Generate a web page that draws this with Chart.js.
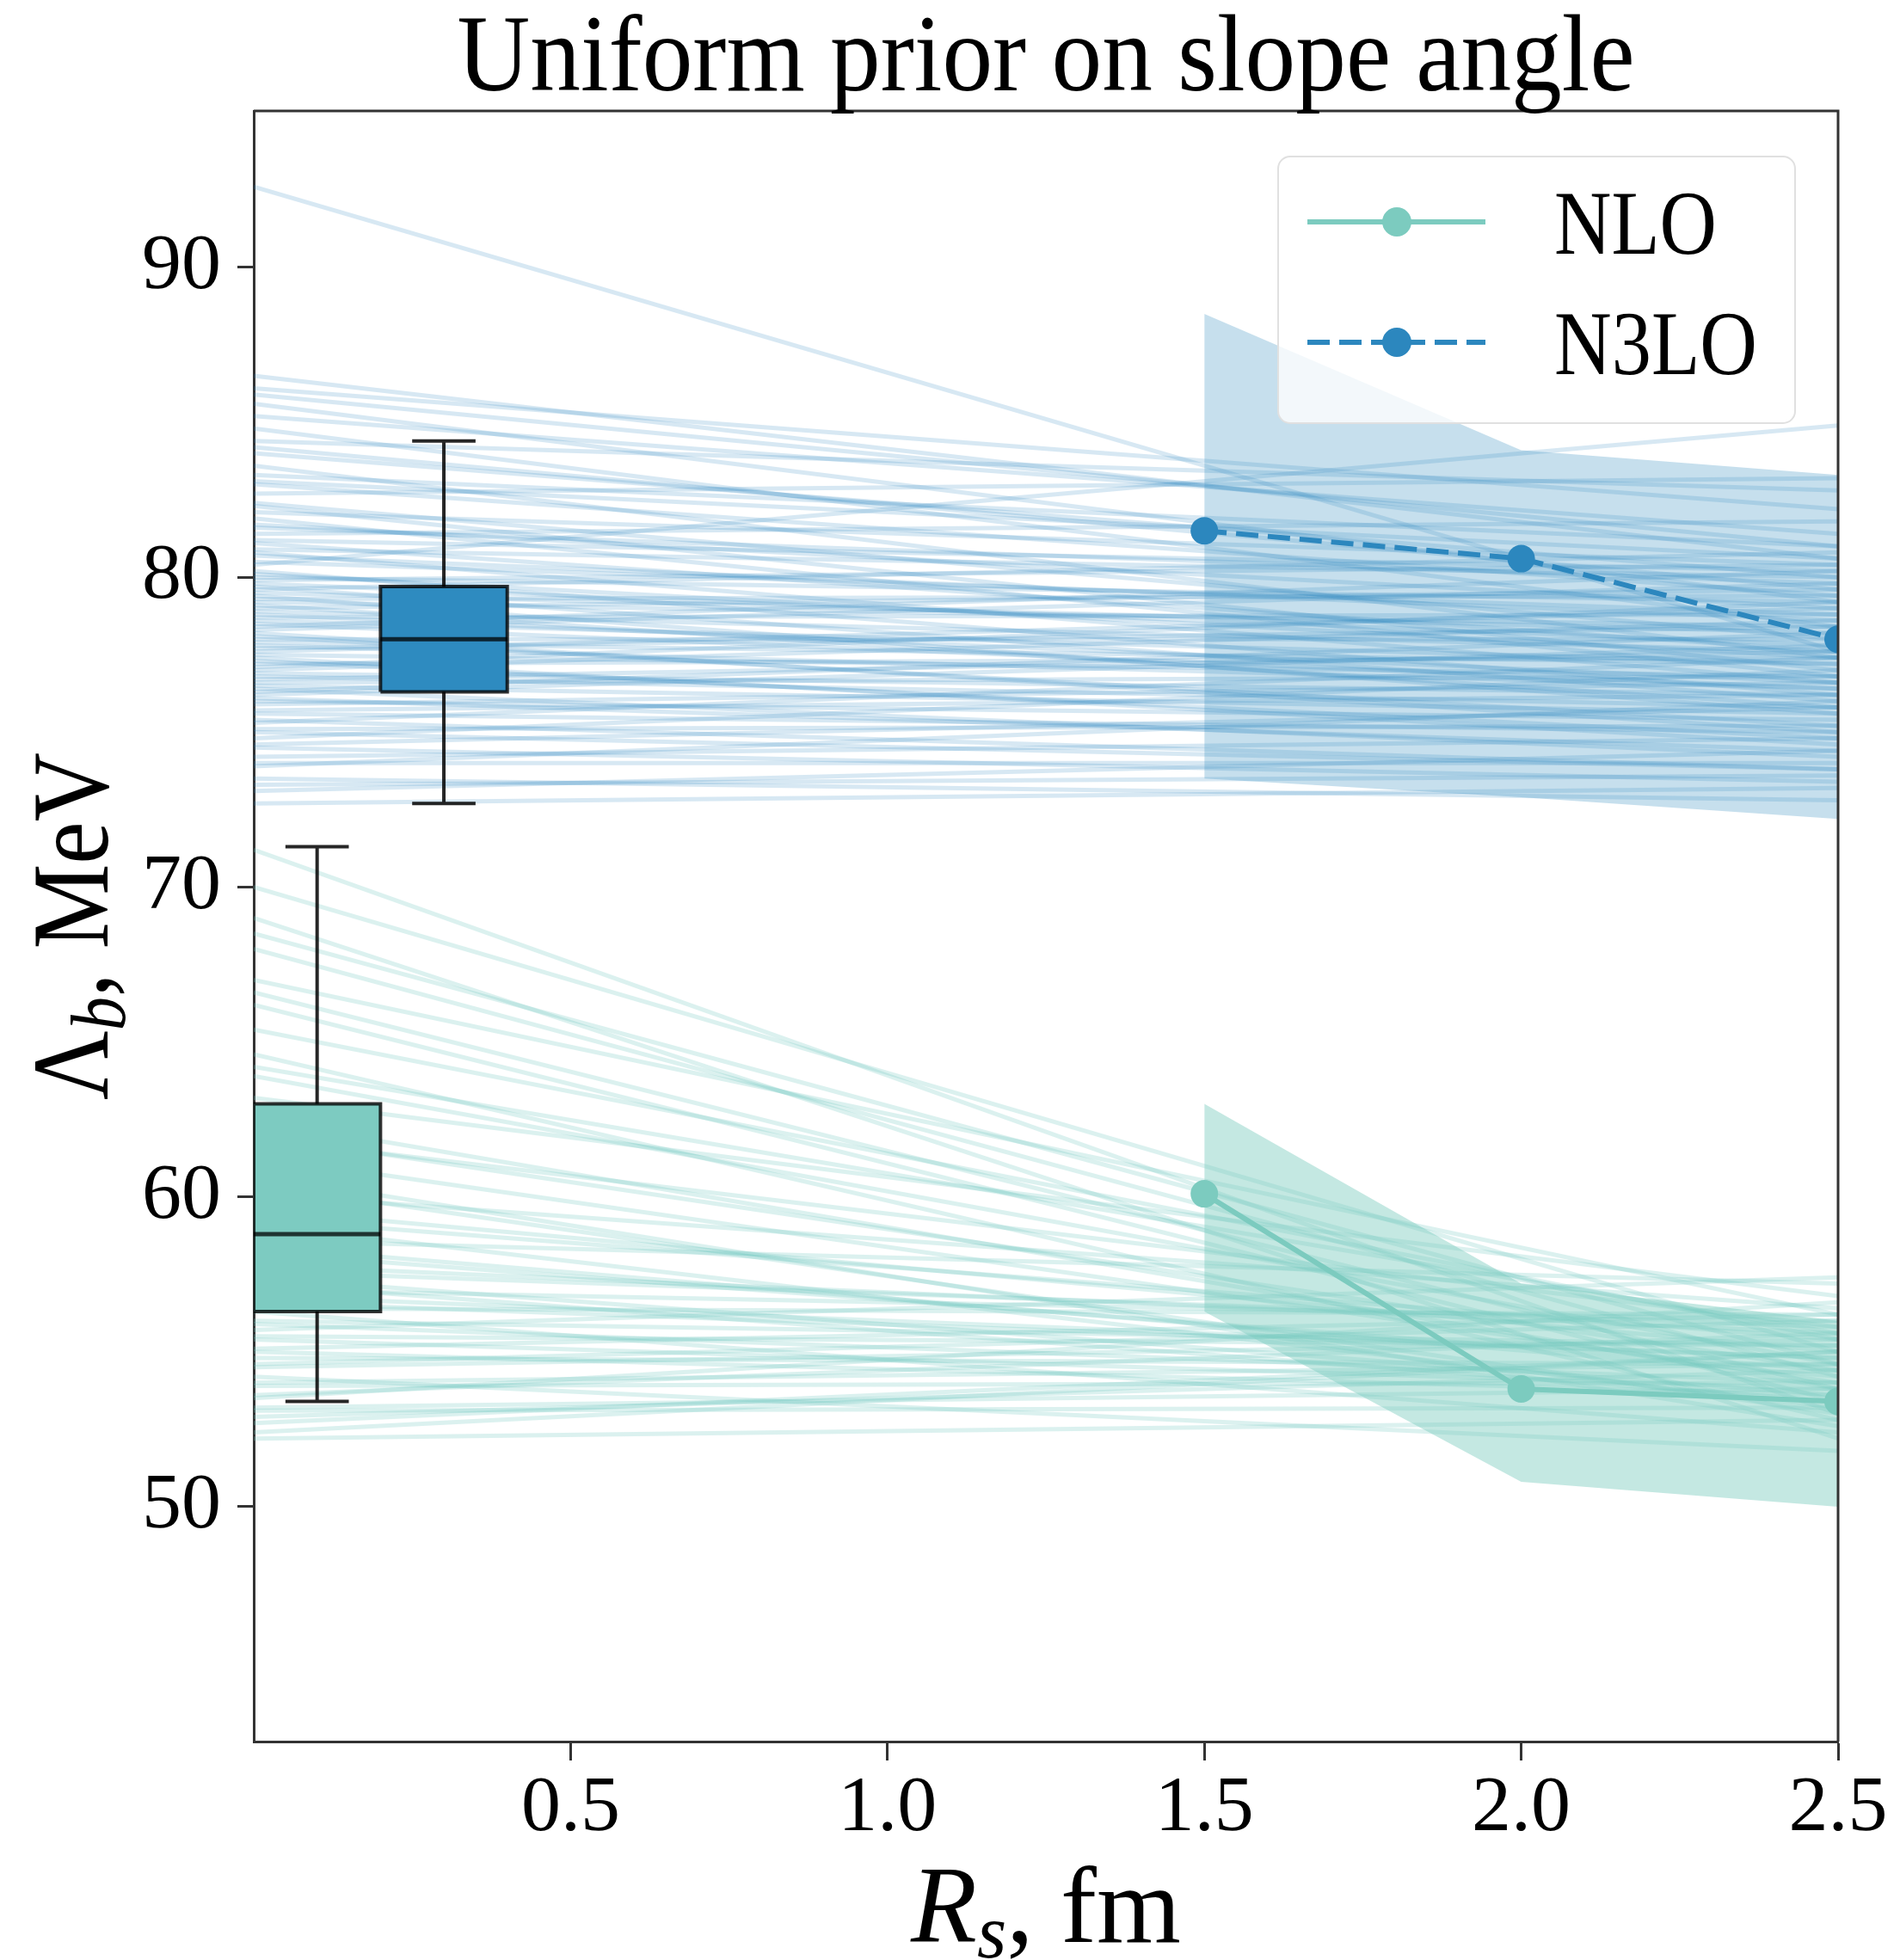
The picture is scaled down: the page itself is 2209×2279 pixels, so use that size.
<!DOCTYPE html>
<html>
<head>
<meta charset="utf-8">
<script src="https://cdn.jsdelivr.net/npm/chart.js@4.4.1/dist/chart.umd.min.js"></script>
<style>
  html, body { margin: 0; padding: 0; background: #fff; }
  #wrap { width: 2209px; height: 2279px; position: relative; }
</style>
</head>
<body>
<div id="wrap"><canvas id="chart"></canvas></div>
<script>
// cutoff radii where the fits were done
const cutoffs = [1.5, 2.0, 2.5];

// NLO mean and band
const nloMean = [60.1, 53.8, 53.4];
const nloUpper = [63.0, 57.2, 56.0];
const nloLower = [56.3, 50.8, 50.0];

// N3LO mean and band
const n3loMean = [81.5, 80.6, 78.0];
const n3loUpper = [88.5, 84.1, 83.3];
const n3loLower = [73.5, 72.9, 72.2];

// box plots: [low whisker, q1, median, q3, high whisker]
const nloBox = [53.4, 56.3, 58.8, 63.0, 71.3];
const n3loBox = [72.7, 76.3, 78.0, 79.7, 84.4];
const boxCenters = [0.1, 0.3];

// sampled straight lines, value at R_s = 0 and at R_s = 2.5
const sampleX = [0, 2.5];
const blueStart = [92.6, 86.5, 86.1, 85.6, 85.2, 84.8, 84.4, 84.0, 83.6, 83.3, 83.0, 82.7, 82.4, 82.1, 81.9, 81.6, 81.4, 81.1, 80.9, 80.7, 80.4, 80.2, 80.0, 79.8, 79.6, 79.4, 79.2, 79.0, 78.8, 78.6, 78.4, 78.2, 78.0, 77.8, 77.6, 77.4, 77.2, 77.0, 76.8, 76.6, 76.4, 76.2, 76.0, 75.7, 75.4, 75.1, 74.8, 74.5, 74.2, 73.9, 73.5, 73.1, 72.7,
  85.9, 84.2, 83.1, 82.3, 81.7, 81.2, 80.8, 80.5, 80.1, 79.9, 79.7, 79.5, 79.3, 79.1, 78.9, 78.7, 78.5, 78.3, 78.1, 77.9, 77.7, 77.5, 77.3, 77.1, 76.9, 76.7, 76.5, 76.3, 76.1, 75.9, 75.6, 75.3, 75.0, 74.6, 74.0, 73.3];
const blueEnd = [77.6, 80.6, 82.2, 79.2, 81.4, 78.4, 82.8, 80.0, 77.4, 81.0, 79.4, 83.2, 78.0, 80.4, 76.8, 79.8, 81.8, 77.6, 80.0, 78.6, 84.9, 76.2, 79.2, 77.8, 80.8, 75.6, 78.4, 79.6, 76.6, 77.2, 80.2, 75.0, 78.0, 76.4, 79.0, 74.6, 77.4, 78.6, 75.8, 76.8, 74.2, 77.8, 75.4, 76.2, 73.8, 75.2, 77.0, 73.4, 74.8, 76.0, 72.8, 74.4, 73.2,
  81.0, 79.6, 80.6, 77.0, 79.0, 80.2, 76.6, 78.8, 77.4, 80.4, 76.0, 78.2, 79.4, 75.8, 77.6, 78.8, 76.4, 79.8, 75.2, 77.2, 78.4, 76.8, 74.8, 79.2, 76.2, 77.6, 75.6, 78.2, 74.4, 76.6, 75.0, 77.4, 73.8, 75.8, 74.0, 73.6];
const tealStart = [71.2, 70.0, 69.0, 68.0, 67.0, 66.2, 65.4, 64.6, 63.9, 63.2, 62.5, 61.9, 61.3, 60.7, 60.1, 59.6, 59.1, 58.6, 58.2, 57.8, 57.4, 57.0, 56.6, 56.3, 56.0, 55.7, 55.4, 55.1, 54.8, 54.5, 54.2, 53.9, 53.5, 53.1, 52.7, 52.2,
  68.5, 66.6, 64.2, 62.0, 60.4, 59.3, 58.4, 57.6, 57.2, 56.8, 56.4, 55.9, 55.5, 55.0, 54.6, 54.0, 53.6, 53.2, 52.9, 52.4];
const tealEnd = [53.0, 55.0, 52.2, 54.2, 56.2, 53.4, 55.4, 52.8, 54.6, 56.8, 53.8, 55.8, 54.0, 52.6, 56.4, 55.0, 53.2, 57.2, 54.4, 55.6, 53.6, 56.0, 54.8, 52.4, 55.2, 57.4, 53.8, 56.2, 54.6, 55.4, 51.8, 54.0, 56.6, 53.2, 55.0, 52.8,
  54.6, 53.8, 55.6, 54.4, 53.0, 55.4, 54.2, 55.8, 53.4, 54.8, 56.2, 54.0, 55.2, 53.6, 56.0, 54.6, 55.6, 53.8, 54.4, 55.0];

// ticks
const xTicks = [0.5, 1.0, 1.5, 2.0, 2.5];
const yTicks = [50, 60, 70, 80, 90];

const TEAL = '#7ccbbf';
const BLUE = '#2c87be';
const SERIF = '"Liberation Serif", "DejaVu Serif", serif';
const boxWidth = 0.2;
const capWidth = 0.1;

const datasets = [];

function pts(xs, ys) {
  return xs.map((x, i) => ({ x: x, y: ys[i] }));
}

// faint sample lines (bottom layer)
blueStart.forEach((s, i) => {
  datasets.push({
    data: pts(sampleX, [s, blueEnd[i]]),
    borderColor: 'rgba(44,135,190,0.19)', borderWidth: 5, pointRadius: 0, fill: false, order: 10
  });
});
tealStart.forEach((s, i) => {
  datasets.push({
    data: pts(sampleX, [s, tealEnd[i]]),
    borderColor: 'rgba(110,198,190,0.25)', borderWidth: 5, pointRadius: 0, fill: false, order: 10
  });
});

// credible bands
function addBand(upper, lower, color) {
  const idx = datasets.length;
  datasets.push({
    data: pts(cutoffs, upper), borderColor: 'rgba(0,0,0,0)', borderWidth: 1, pointRadius: 0, fill: false, order: 6
  });
  datasets.push({
    data: pts(cutoffs, lower), borderColor: 'rgba(0,0,0,0)', borderWidth: 1, pointRadius: 0,
    fill: { target: idx }, backgroundColor: color, order: 6
  });
}
addBand(n3loUpper, n3loLower, 'rgba(44,135,190,0.27)');
addBand(nloUpper, nloLower, 'rgba(124,203,191,0.45)');

// mean curves
datasets.push({
  data: pts(cutoffs, nloMean), borderColor: TEAL, borderWidth: 6, pointRadius: 16,
  pointBackgroundColor: TEAL, pointBorderWidth: 0, fill: false, order: 3
});
datasets.push({
  data: pts(cutoffs, n3loMean), borderColor: BLUE, borderWidth: 6, borderDash: [26, 11], pointRadius: 16,
  pointBackgroundColor: BLUE, pointBorderWidth: 0, fill: false, order: 3
});

// box plots
function addBox(stats, c, color) {
  const [lo, q1, med, q3, hi] = stats;
  const l = c - boxWidth / 2, r = c + boxWidth / 2;
  const idx = datasets.length;
  datasets.push({
    data: [{ x: l, y: q3 }, { x: r, y: q3 }], borderColor: 'rgba(0,0,0,0)', borderWidth: 1, pointRadius: 0, fill: false, order: 2
  });
  datasets.push({
    data: [{ x: l, y: q1 }, { x: r, y: q1 }], borderColor: 'rgba(0,0,0,0)', borderWidth: 1, pointRadius: 0,
    fill: { target: idx }, backgroundColor: color, order: 2
  });
  datasets.push({
    data: [{ x: l, y: q1 }, { x: r, y: q1 }, { x: r, y: q3 }, { x: l, y: q3 }, { x: l, y: q1 }],
    borderColor: 'rgba(0,0,0,0.8)', borderWidth: 4, pointRadius: 0, fill: false, order: 1
  });
  datasets.push({
    data: [{ x: l, y: med }, { x: r, y: med }],
    borderColor: 'rgba(0,0,0,0.75)', borderWidth: 5, pointRadius: 0, fill: false, order: 1
  });
  datasets.push({
    data: [
      { x: c, y: q3 }, { x: c, y: hi }, { x: c, y: null },
      { x: c - capWidth / 2, y: hi }, { x: c + capWidth / 2, y: hi }, { x: c, y: null },
      { x: c, y: q1 }, { x: c, y: lo }, { x: c, y: null },
      { x: c - capWidth / 2, y: lo }, { x: c + capWidth / 2, y: lo }
    ],
    borderColor: 'rgba(0,0,0,0.85)', borderWidth: 4, pointRadius: 0, fill: false, spanGaps: false, order: 1
  });
}
addBox(nloBox, boxCenters[0], '#7dcbc1');
addBox(n3loBox, boxCenters[1], '#2e8bc0');

// draw text pieces squeezed to a target width
function drawPieces(ctx, pieces, x, y, width, align) {
  let total = 0;
  pieces.forEach(p => { ctx.font = p.font; p.w = ctx.measureText(p.text).width; total += p.w; });
  const sx = width / total;
  ctx.save();
  ctx.translate(x, y);
  ctx.scale(sx, 1);
  ctx.textBaseline = 'alphabetic';
  ctx.textAlign = 'left';
  ctx.fillStyle = '#000';
  let cx = align === 'center' ? -total / 2 : 0;
  pieces.forEach(p => { ctx.font = p.font; ctx.fillText(p.text, cx, p.dy || 0); cx += p.w; });
  ctx.restore();
}

const decorPlugin = {
  id: 'decor',
  afterDraw(chart) {
    const ctx = chart.ctx;
    const a = chart.chartArea;
    const midX = (a.left + a.right) / 2;
    const midY = (a.top + a.bottom) / 2;

    // top and right spines
    ctx.save();
    ctx.strokeStyle = '#333';
    ctx.lineWidth = 3;
    ctx.beginPath();
    ctx.moveTo(a.left, a.top);
    ctx.lineTo(a.right, a.top);
    ctx.lineTo(a.right, a.bottom);
    ctx.stroke();
    ctx.restore();

    // title
    drawPieces(ctx, [{ text: 'Uniform prior on slope angle', font: '128px ' + SERIF }], midX, a.top - 24, 1369, 'center');

    // x axis title
    drawPieces(ctx, [
      { text: 'R', font: 'italic 126px ' + SERIF },
      { text: 's', font: 'italic 88px ' + SERIF, dy: 18 },
      { text: ', fm', font: '126px ' + SERIF }
    ], midX, 2258, 314, 'center');

    // y axis title
    ctx.save();
    ctx.translate(125, midY);
    ctx.rotate(-Math.PI / 2);
    drawPieces(ctx, [
      { text: 'Λ', font: '128px ' + SERIF },
      { text: 'b', font: 'italic 90px ' + SERIF, dy: 20 },
      { text: ', MeV', font: '128px ' + SERIF }
    ], 0, 0, 404, 'center');
    ctx.restore();

    // legend
    const lx = a.right - 651, ly = a.top + 53, lw = 601, lh = 310;
    ctx.save();
    ctx.beginPath();
    ctx.roundRect(lx, ly, lw, lh, 14);
    ctx.fillStyle = 'rgba(255,255,255,0.8)';
    ctx.fill();
    ctx.strokeStyle = '#e0e0e0';
    ctx.lineWidth = 2;
    ctx.stroke();

    const entries = [
      { label: 'NLO', color: TEAL, dash: [], y: ly + 76, width: 189 },
      { label: 'N3LO', color: BLUE, dash: [26, 11], y: ly + 216, width: 236 }
    ];
    entries.forEach(e => {
      ctx.strokeStyle = e.color;
      ctx.lineWidth = 6;
      ctx.setLineDash(e.dash);
      ctx.beginPath();
      ctx.moveTo(lx + 34, e.y);
      ctx.lineTo(lx + 241, e.y);
      ctx.stroke();
      ctx.setLineDash([]);
      ctx.fillStyle = e.color;
      ctx.beginPath();
      ctx.arc(lx + 138, e.y, 17, 0, Math.PI * 2);
      ctx.fill();
      drawPieces(ctx, [{ text: e.label, font: '106px ' + SERIF }], lx + 321, e.y + 37, e.width, 'left');
    });
    ctx.restore();
  }
};

new Chart(document.getElementById('chart'), {
  type: 'line',
  data: { datasets: datasets },
  options: {
    responsive: true,
    maintainAspectRatio: false,
    devicePixelRatio: 1,
    animation: false,
    events: [],
    layout: { padding: { left: 0, right: 72, top: 129, bottom: 0 } },
    datasets: { line: { clip: 0, tension: 0 } },
    plugins: {
      legend: { display: false },
      title: { display: false },
      tooltip: { enabled: false }
    },
    scales: {
      x: {
        type: 'linear',
        min: 0,
        max: 2.5,
        z: 1,
        afterBuildTicks: scale => { scale.ticks = xTicks.map(v => ({ value: v })); },
        afterFit: scale => { scale.height = 254; },
        grid: { drawOnChartArea: false, drawTicks: true, tickLength: 22, tickWidth: 3, tickColor: '#333' },
        border: { display: true, color: '#333', width: 3 },
        ticks: {
          font: { family: SERIF, size: 92 }, color: '#000', padding: 2, maxRotation: 0, autoSkip: false,
          callback: v => Number(v).toFixed(1)
        }
      },
      y: {
        type: 'linear',
        min: 42.42,
        max: 95.05,
        z: 1,
        afterBuildTicks: scale => { scale.ticks = yTicks.map(v => ({ value: v })); },
        afterFit: scale => { scale.width = 295; },
        grid: { drawOnChartArea: false, drawTicks: true, tickLength: 19, tickWidth: 3, tickColor: '#333' },
        border: { display: true, color: '#333', width: 3 },
        ticks: {
          font: { family: SERIF, size: 92 }, color: '#000', padding: 19, autoSkip: false,
          callback: v => String(v)
        }
      }
    }
  },
  plugins: [decorPlugin]
});
</script>
</body>
</html>
